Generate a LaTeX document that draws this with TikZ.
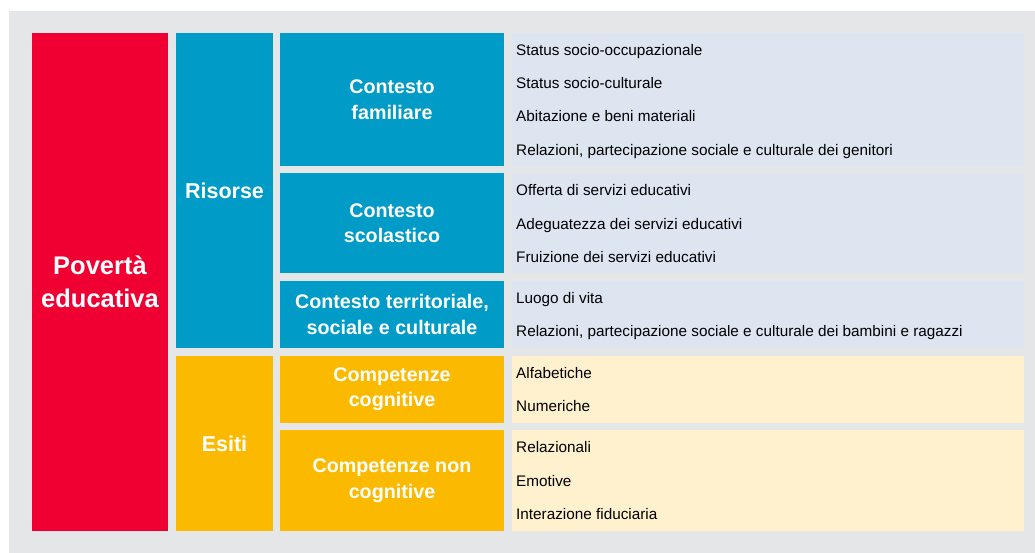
\documentclass[tikz,border=0pt]{standalone}
\usepackage{fontspec}
\setmainfont{Liberation Sans}
\usepackage{xcolor}
\definecolor{povred}{HTML}{F00032}
\definecolor{resblue}{HTML}{009BC6}
\definecolor{outyellow}{HTML}{FBBA00}
\definecolor{paleblue}{HTML}{DCE5F0}
\definecolor{paleyellow}{HTML}{FFF1CD}
\definecolor{framegrey}{HTML}{E5E6E8}
\usetikzlibrary{positioning}
\tikzset{
  cell/.style={anchor=north west,inner sep=0pt,outer sep=0pt,align=center,text=white},
  rootcell/.style={cell,fill=povred,minimum width=136pt,font=\fontsize{25.5}{33}\selectfont\bfseries},
  dimcell/.style={cell,minimum width=97pt,font=\fontsize{21.5}{26}\selectfont\bfseries},
  subcell/.style={cell,minimum width=224pt,font=\fontsize{19.7}{25.5}\selectfont\bfseries},
  listcell/.style={anchor=north west,inner sep=0pt,outer sep=0pt,minimum width=512pt},
  itemtext/.style={anchor=base west,inner sep=0pt,font=\fontsize{15.3}{18}\selectfont}
}

\begin{document}
\begin{tikzpicture}[x=1pt,y=-1pt]
\useasboundingbox (0,0) rectangle (1035,553);
\fill[framegrey] (9,11) rectangle (1035,553);
% first two columns
\node[rootcell,minimum height=498pt] (pov) at (32,33) {Povertà\\educativa};
\node[dimcell,fill=resblue,minimum height=314.7pt] (ris) at (176,33) {Risorse};
\node[dimcell,fill=outyellow,minimum height=175pt] (esi) at (176,356) {Esiti};
% contexts and skills
\node[subcell,fill=resblue,minimum height=133.3pt] (fam) at (280,33) {Contesto\\familiare};
\node[subcell,fill=resblue,minimum height=100pt] (scol) at (280,173.3) {Contesto\\scolastico};
\node[subcell,fill=resblue,minimum height=66.7pt] (terr) at (280,281) {Contesto territoriale,\\sociale e culturale};
\node[subcell,fill=outyellow,minimum height=66.7pt] (cog) at (280,356) {Competenze\\cognitive};
\node[subcell,fill=outyellow,minimum height=101pt] (ncog) at (280,430) {Competenze non\\cognitive};
% item lists
\node[listcell,fill=paleblue,minimum height=133.3pt] (famlist) at (512,33) {};
\node[listcell,fill=paleblue,minimum height=100pt] (scollist) at (512,173.3) {};
\node[listcell,fill=paleblue,minimum height=66.7pt] (terrlist) at (512,281) {};
\node[listcell,fill=paleyellow,minimum height=66.7pt] (coglist) at (512,356) {};
\node[listcell,fill=paleyellow,minimum height=101pt] (ncoglist) at (512,430) {};
\foreach \t [count=\i from 0] in {Status socio-occupazionale,Status socio-culturale,Abitazione e beni materiali,{Relazioni, partecipazione sociale e culturale dei genitori}}
  \node[itemtext] (fam\i) at (516,55.3+33.3*\i) {\t};
\foreach \t [count=\i from 0] in {Offerta di servizi educativi,Adeguatezza dei servizi educativi,Fruizione dei servizi educativi}
  \node[itemtext] (scol\i) at (516,195.8+33.3*\i) {\t};
\foreach \t [count=\i from 0] in {Luogo di vita,{Relazioni, partecipazione sociale e culturale dei bambini e ragazzi}}
  \node[itemtext] (terr\i) at (516,303.5+33.3*\i) {\t};
\foreach \t [count=\i from 0] in {Alfabetiche,Numeriche}
  \node[itemtext] (cog\i) at (516,378.5+33.3*\i) {\t};
\foreach \t [count=\i from 0] in {Relazionali,Emotive,Interazione fiduciaria}
  \node[itemtext] (ncog\i) at (516,452.8+33.3*\i) {\t};
\end{tikzpicture}
\end{document}
